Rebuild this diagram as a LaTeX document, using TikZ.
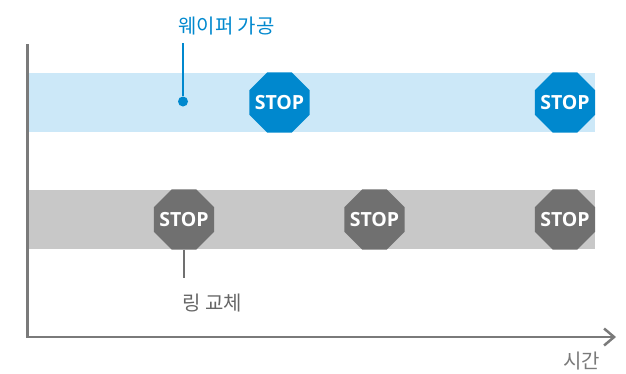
\documentclass[tikz,border=0pt]{standalone}
\usepackage{fontspec}
\setmainfont{Noto Sans CJK KR}
\newfontfamily\stopfont{Open Sans}
\usetikzlibrary{shapes.geometric,arrows.meta}
\definecolor{waferblue}{HTML}{0088CE}
\definecolor{waferband}{HTML}{CCE8F8}
\definecolor{ringgray}{HTML}{707070}
\definecolor{ringband}{HTML}{C8C8C8}
\definecolor{axisgray}{HTML}{7A7A7A}
\definecolor{labelgray}{HTML}{666666}

\begin{document}
\begin{tikzpicture}[x=1pt,y=-1pt,
  stoptext/.style={inner sep=0pt,text=white,font=\stopfont\bfseries\fontsize{19.5}{19.5}\selectfont},
  stopsign/.style={regular polygon,regular polygon sides=8,minimum size=65pt,inner sep=0pt,
    fill=#1,label={[stoptext]center:STOP}},
  caption/.style={inner sep=0pt,font=\fontsize{20}{20}\selectfont,text=#1},
  leader/.style={draw=#1,line width=2.5pt}]
\useasboundingbox (0,0) rectangle (626,373);

% bands
\fill[waferband] (29,73) rectangle (595,132);
\fill[ringband] (29,190) rectangle (595,249);

% axes
\coordinate (ytop) at (27.5,44);
\coordinate (origin) at (27.5,337);
\coordinate (xend) at (616,337);
\draw[axisgray,line width=2.5pt,-{Straight Barb[length=10pt,width=17pt]}] (ytop) -- (origin) -- (xend);
\node[caption=axisgray,anchor=base east] (time) at (600,368) {시간};

% wafer
\node[stopsign=waferblue] (wafer1) at (279.5,102.5) {};
\node[stopsign=waferblue] (wafer2) at (565,102.5) {};
\node[circle,fill=waferblue,minimum size=10pt,inner sep=0pt] (waferdot) at (183,101.5) {};
\coordinate (wafertop) at (183,43);
\draw[leader=waferblue] (waferdot) -- (wafertop);
\node[caption=waferblue,anchor=base west] (waferlabel) at (178,33) {웨이퍼 가공};

% ring
\node[stopsign=ringgray] (ring1) at (184,219.5) {};
\node[stopsign=ringgray] (ring2) at (374.5,219.5) {};
\node[stopsign=ringgray] (ring3) at (565,219.5) {};
\coordinate (ringbottom) at (184,278);
\draw[leader=ringgray] (ring1) -- (ringbottom);
\node[caption=labelgray,anchor=base west] (ringlabel) at (182,310) {링 교체};
\end{tikzpicture}
\end{document}
